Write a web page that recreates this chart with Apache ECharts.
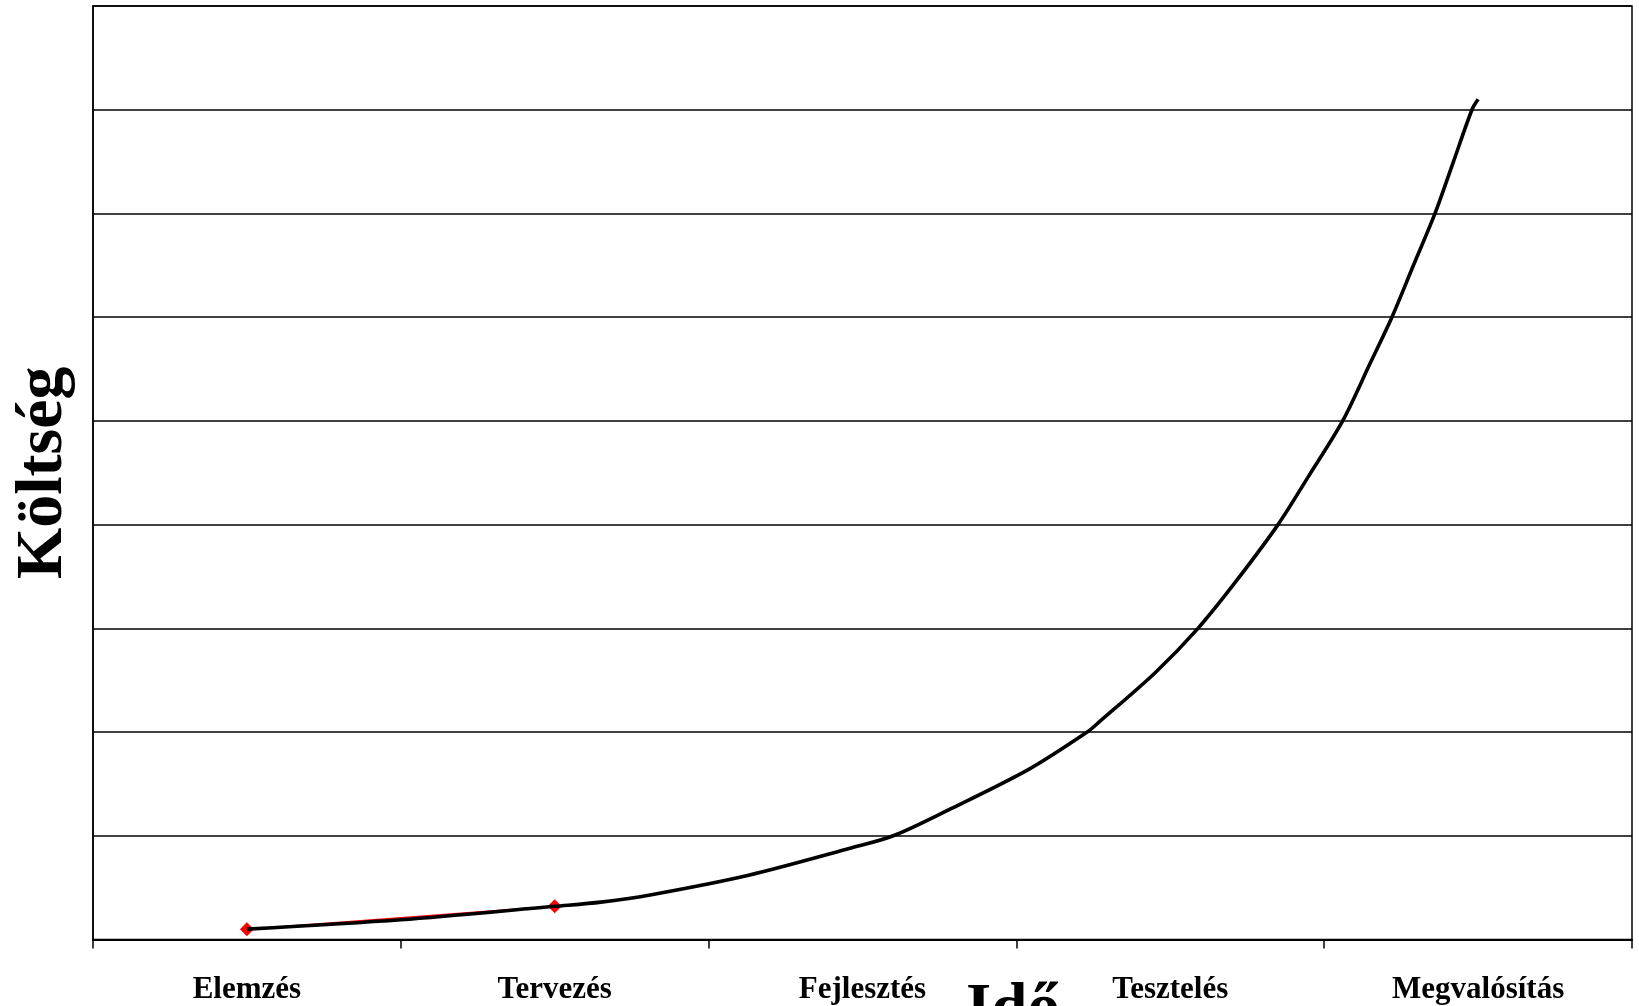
<!DOCTYPE html>
<html>
<head>
<meta charset="utf-8">
<script src="https://cdn.jsdelivr.net/npm/echarts@6/dist/echarts.min.js"></script>
<style>html,body{margin:0;padding:0;background:#fff}#c{width:1639px;height:1006px}</style>
</head>
<body>
<div id="c"></div>
<script>
var categories = ['Elemzés', 'Tervezés', 'Fejlesztés', 'Tesztelés', 'Megvalósítás'];
var redValues = [0.10, 0.32];
var curveX = [0, 0.5, 1.0, 1.15, 1.31, 1.63, 1.96, 2.10, 2.28, 2.54, 2.73, 2.77, 2.95, 3.09, 3.21, 3.35, 3.45, 3.56, 3.65, 3.72, 3.79, 3.86, 3.92, 3.98, 4.0];
var curveY = [0.10, 0.19, 0.32, 0.36, 0.43, 0.62, 0.88, 1.0, 1.25, 1.64, 2.0, 2.10, 2.57, 3.0, 3.44, 4.0, 4.47, 5.0, 5.56, 6.0, 6.5, 7.0, 7.5, 8.0, 8.10];
var yTitle = 'Költség';
var xTitle = 'Idő';

var curveData = curveX.map(function (x, i) { return [x, curveY[i]]; });
var font = '"Liberation Serif", "Times New Roman", serif';

var chart = echarts.init(document.getElementById('c'), null, { renderer: 'canvas' });
chart.setOption({
  animation: false,
  backgroundColor: '#ffffff',
  grid: { left: 93, right: 7, top: 6, bottom: 66.5, show: true, borderColor: '#000', borderWidth: 1.5, backgroundColor: 'transparent' },
  xAxis: [
    {
      type: 'category', data: categories, boundaryGap: true,
      axisLine: { show: true, lineStyle: { color: '#000', width: 2 } },
      axisTick: { show: true, length: 9, alignWithLabel: false, lineStyle: { color: '#000', width: 1.5 } },
      axisLabel: { color: '#000', fontFamily: font, fontWeight: 'bold', fontSize: 31, margin: 35 },
      splitLine: { show: false }
    },
    { type: 'value', min: -0.5, max: 4.5, show: false, splitLine: { show: false }, axisLine: { show: false } }
  ],
  yAxis: {
    type: 'value', min: 0, max: 9, interval: 1,
    axisLine: { show: true, onZero: false, lineStyle: { color: '#000', width: 1.5 } },
    axisTick: { show: false },
    axisLabel: { show: false },
    splitLine: { show: true, lineStyle: { color: '#000', width: 1.5 } },
    name: yTitle, nameLocation: 'middle', nameRotate: 90, nameGap: 16,
    nameTextStyle: { color: '#000', fontFamily: font, fontWeight: 'bold', fontSize: 66 }
  },
  graphic: [{
    type: 'text', left: 966, top: 979,
    style: { text: xTitle, fill: '#000', font: 'bold 65px ' + font }
  }],
  series: [
    {
      type: 'line', xAxisIndex: 0, data: redValues,
      symbol: 'diamond', symbolSize: 14, showSymbol: true,
      lineStyle: { color: '#ff0000', width: 1.5 },
      itemStyle: { color: '#ff0000' }, z: 2
    },
    {
      type: 'line', xAxisIndex: 1, data: curveData, smooth: 0.3,
      symbol: 'none', lineStyle: { color: '#000', width: 3.6 }, z: 3
    }
  ]
});
</script>
</body>
</html>
